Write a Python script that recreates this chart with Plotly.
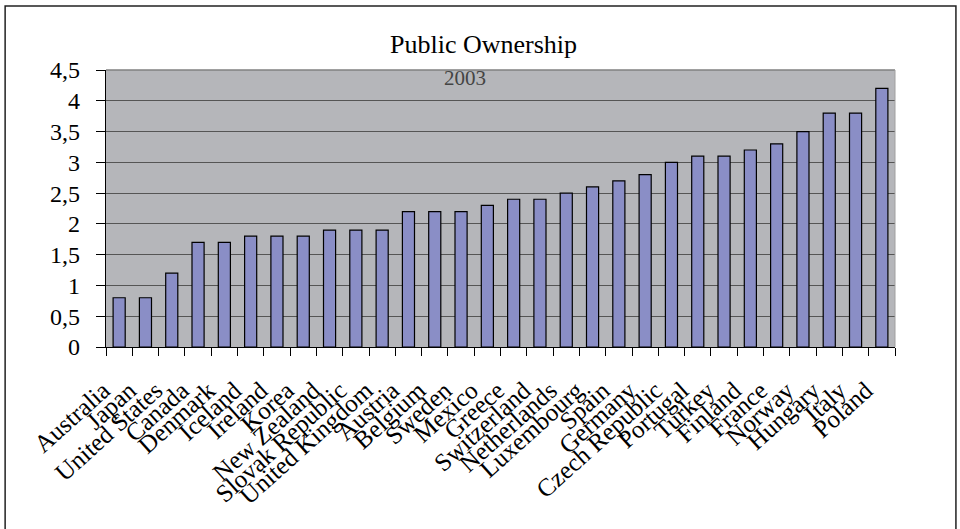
import plotly.graph_objects as go

countries = ["Australia", "Japan", "United States", "Canada", "Denmark", "Iceland",
             "Ireland", "Korea", "New Zealand", "Slovak Republic", "United Kingdom",
             "Austria", "Belgium", "Sweden", "Mexico", "Greece", "Switzerland",
             "Netherlands", "Luxembourg", "Spain", "Germany", "Czech Republic",
             "Portugal", "Turkey", "Finland", "France", "Norway", "Hungary", "Italy",
             "Poland"]
values = [0.8, 0.8, 1.2, 1.7, 1.7, 1.8, 1.8, 1.8, 1.9, 1.9, 1.9,
          2.2, 2.2, 2.2, 2.3, 2.4, 2.4, 2.5, 2.6, 2.7, 2.8, 3.0,
          3.1, 3.1, 3.2, 3.3, 3.5, 3.8, 3.8, 4.2]
y_ticks = [0, 0.5, 1, 1.5, 2, 2.5, 3, 3.5, 4, 4.5]
y_tick_labels = ["0", "0,5", "1", "1,5", "2", "2,5", "3", "3,5", "4", "4,5"]

SERIF = "Liberation Serif, Times New Roman, serif"

fig = go.Figure()
fig.add_trace(go.Bar(
    x=countries, y=values, width=0.46,
    marker=dict(color="#8A8EC6", line=dict(color="#000000", width=1.2)),
))

fig.update_layout(
    width=960, height=529,
    margin=dict(l=106, r=65, t=70, b=182),
    paper_bgcolor="#FFFFFF",
    plot_bgcolor="#B5B6BA",
    showlegend=False,
    bargap=0.5,
    font=dict(family=SERIF, color="#000000"),
    xaxis=dict(
        type="category",
        tickmode="array", tickvals=countries, ticktext=countries,
        tickangle=-42,
        tickfont=dict(family=SERIF, size=25, color="#000000"),
        ticks="outside", ticklen=8, tickcolor="#000000", tickwidth=1,
        showline=True, linecolor="#000000", linewidth=1,
        showgrid=False,
        ticklabelstandoff=18,
        ticklabelshift=-16,
        tickson="boundaries",
    ),
    yaxis=dict(
        range=[0, 4.5],
        tickmode="array", tickvals=y_ticks, ticktext=y_tick_labels,
        tickfont=dict(family=SERIF, size=24, color="#000000"),
        ticks="outside", ticklen=9, tickcolor="#000000", tickwidth=1,
        showline=True, linecolor="#000000", linewidth=1.2,
        showgrid=True, gridcolor="#555555", gridwidth=1.3,
        zeroline=False,
        ticklabelstandoff=11,
    ),
    annotations=[
        dict(text="Public Ownership", xref="paper", yref="paper",
             x=0.478, y=(347 - 44) / 277, xanchor="center", yanchor="middle",
             showarrow=False, font=dict(family=SERIF, size=26, color="#000000")),
        dict(text="2003", xref="paper", yref="paper",
             x=(465 - 106) / 790, y=(347 - 78) / 277, xanchor="center", yanchor="middle",
             showarrow=False, font=dict(family=SERIF, size=21, color="#444444")),
    ],
    shapes=[
        dict(type="line", xref="paper", yref="paper", x0=0, x1=1, y0=1, y1=1,
             line=dict(color="#808080", width=1.3)),
        dict(type="line", xref="paper", yref="paper", x0=1, x1=1, y0=0, y1=1,
             line=dict(color="#A0A0A0", width=1)),
        dict(type="rect", xref="paper", yref="paper",
             x0=(5 - 106) / 790, x1=(957 - 106) / 790,
             y0=(347 - 540) / 277, y1=(347 - 6) / 277,
             line=dict(color="#222222", width=1.5), fillcolor="rgba(0,0,0,0)"),
    ],
)

fig.write_html("out.html")
